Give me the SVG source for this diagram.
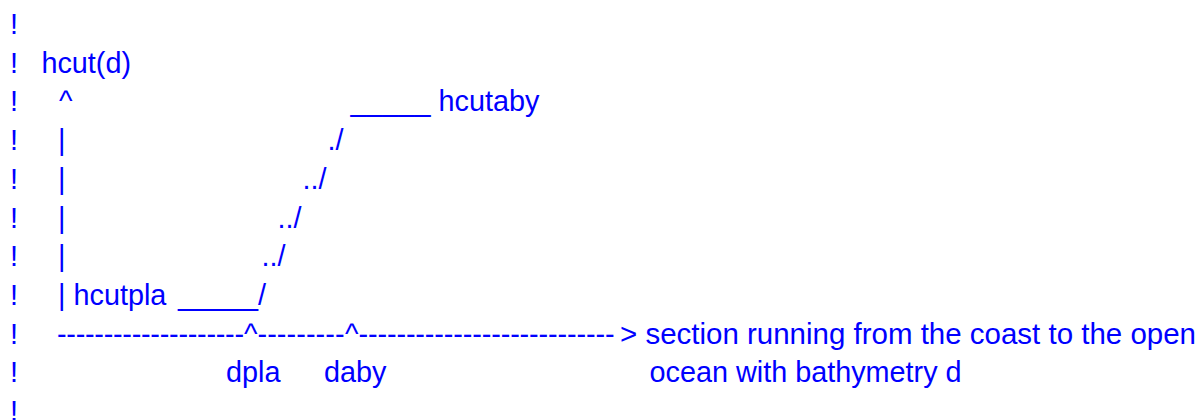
<svg xmlns="http://www.w3.org/2000/svg" width="1201" height="420" viewBox="0 0 1201 420">
<style>
text{font-family:"Liberation Sans",Arial,sans-serif;font-size:28.8px;fill:#0000ff;white-space:pre}
</style>
<rect width="1201" height="420" fill="#ffffff"/>
<g id="bangs">
<text x="10" y="34">!</text>
<text x="10" y="72.7">!</text>
<text x="10" y="111.4">!</text>
<text x="10" y="150.1">!</text>
<text x="10" y="188.8">!</text>
<text x="10" y="227.5">!</text>
<text x="10" y="266.2">!</text>
<text x="10" y="304.9">!</text>
<text x="10" y="343.6">!</text>
<text x="10" y="382.3">!</text>
<text x="10" y="421">!</text>
</g>
<g id="axis-y">
<text x="41.4" y="72.7">hcut(d)</text>
<text x="59" y="111.4">^</text>
<text x="58" y="150.1">|</text>
<text x="58" y="188.8">|</text>
<text x="58" y="227.5">|</text>
<text x="58" y="266.2">|</text>
<text x="58" y="304.9">| hcutpla</text>
<text x="178" y="304.9">_____/</text>
</g>
<g id="curve">
<text x="350.5" y="111.4">_____</text>
<text x="438.5" y="111.4">hcutaby</text>
<text x="327.5" y="150.1">./</text>
<text x="302.5" y="188.8">../</text>
<text x="277.5" y="227.5">../</text>
<text x="261.5" y="266.2">../</text>
</g>
<g id="axis-x">
<text x="57" y="343.6" textLength="187" lengthAdjust="spacing">--------------------</text>
<text x="244" y="343.6">^</text>
<text x="257.5" y="343.6" textLength="87" lengthAdjust="spacing">---------</text>
<text x="345" y="343.6">^</text>
<text x="358.5" y="343.6" textLength="256" lengthAdjust="spacing">---------------------------</text>
<text x="620" y="343.6" textLength="576" lengthAdjust="spacingAndGlyphs">&gt; section running from the coast to the open</text>
<text x="226" y="382.3">dpla</text>
<text x="324" y="382.3">daby</text>
<text x="649.5" y="382.3">ocean with bathymetry d</text>
</g>
</svg>
